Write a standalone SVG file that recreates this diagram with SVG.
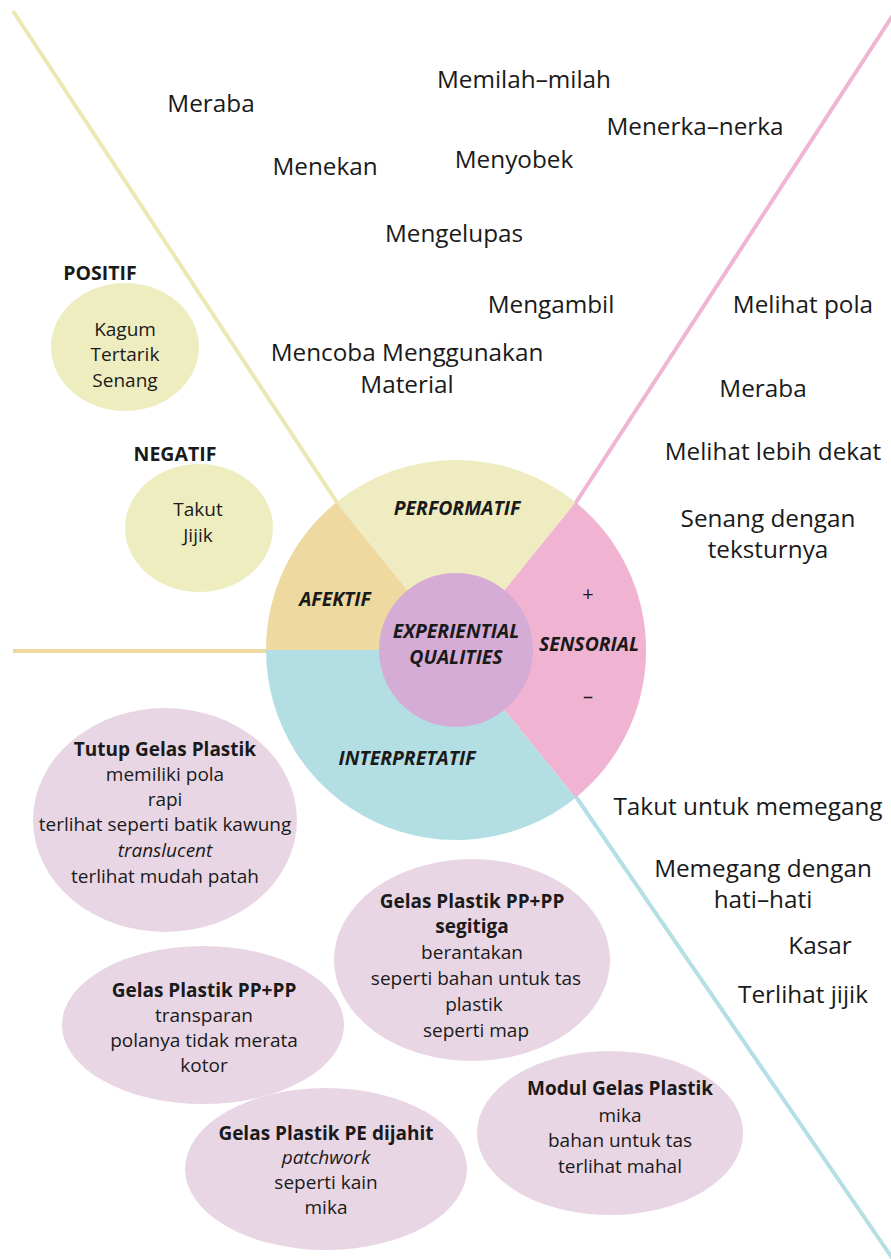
<svg xmlns="http://www.w3.org/2000/svg" width="891" height="1259" viewBox="0 0 891 1259">
<style>
  text { font-family: "Open Sans", "Liberation Sans", sans-serif; fill: #1a1a1a; text-anchor: middle; }
  .w { font-size: 24.3px; }
  .e { font-size: 19px; }
  .b { font-weight: bold; }
  .i { font-style: italic; }
  .lab { font-size: 19.4px; font-weight: bold; font-style: italic; }
  .cap { font-size: 19.5px; font-weight: bold; }
  .bub { fill: #e9d6e5; }
  .yel { fill: #eeedc0; }
  .ln { fill: none; stroke-width: 4; stroke-linecap: butt; }
</style>
<rect width="891" height="1259" fill="#ffffff"/>

<g id="connectors">
  <line class="ln" x1="13" y1="11" x2="340" y2="507" stroke="#ebe8b3"/>
  <line class="ln" x1="895" y1="12" x2="573" y2="507" stroke="#f0b5d3"/>
  <line class="ln" x1="572" y1="791" x2="895" y2="1262" stroke="#b3dfe5"/>
  <line class="ln" x1="13" y1="651" x2="270" y2="651" stroke="#ecd9a0"/>
</g>

<g id="wheel">
  <path id="afektif" d="M456 650 L266 650 A190 190 0 0 1 336.4 502.3 Z" fill="#eed9a1"/>
  <path id="performatif" d="M456 650 L336.4 502.3 A190 190 0 0 1 575.6 502.3 Z" fill="#eeecc0"/>
  <path id="sensorial" d="M456 650 L575.6 502.3 A190 190 0 0 1 575.6 797.7 Z" fill="#f0b4d2"/>
  <path id="interpretatif" d="M456 650 L575.6 797.7 A190 190 0 0 1 266 650 Z" fill="#b3dfe4"/>
  <text class="lab" x="457" y="515">PERFORMATIF</text>
  <text class="lab" x="335" y="606">AFEKTIF</text>
  <text class="lab" x="589" y="651">SENSORIAL</text>
  <text class="lab" x="407" y="765">INTERPRETATIF</text>
  <text class="w" x="588" y="601" style="font-size:20px">+</text>
  <text class="w" x="588" y="703" style="font-size:20px">–</text>
</g>

<g id="center">
  <circle cx="456" cy="650" r="77" fill="#d4acd5"/>
  <text class="lab" x="456" y="638">EXPERIENTIAL</text>
  <text class="lab" x="456" y="664">QUALITIES</text>
</g>

<g id="performatif-words">
  <text class="w" x="524" y="88">Memilah–milah</text>
  <text class="w" x="211" y="112">Meraba</text>
  <text class="w" x="695" y="135">Menerka–nerka</text>
  <text class="w" x="325" y="175">Menekan</text>
  <text class="w" x="514" y="168">Menyobek</text>
  <text class="w" x="454" y="242">Mengelupas</text>
  <text class="w" x="551" y="313">Mengambil</text>
  <text class="w" x="407" y="361">Mencoba Menggunakan</text>
  <text class="w" x="407" y="393">Material</text>
</g>

<g id="sensorial-words">
  <text class="w" x="803" y="313">Melihat pola</text>
  <text class="w" x="763" y="397">Meraba</text>
  <text class="w" x="773" y="460">Melihat lebih dekat</text>
  <text class="w" x="768" y="527">Senang dengan</text>
  <text class="w" x="768" y="558">teksturnya</text>
  <text class="w" x="748" y="815">Takut untuk memegang</text>
  <text class="w" x="763" y="877">Memegang dengan</text>
  <text class="w" x="763" y="908">hati–hati</text>
  <text class="w" x="820" y="954">Kasar</text>
  <text class="w" x="803" y="1003">Terlihat jijik</text>
</g>

<g id="positif">
  <text class="cap" x="100" y="280">POSITIF</text>
  <ellipse class="yel" cx="125" cy="347" rx="74" ry="64"/>
  <text class="e" x="125" y="336">Kagum</text>
  <text class="e" x="125" y="361">Tertarik</text>
  <text class="e" x="125" y="387">Senang</text>
</g>

<g id="negatif">
  <text class="cap" x="175" y="461">NEGATIF</text>
  <ellipse class="yel" cx="199" cy="528" rx="74" ry="64"/>
  <text class="e" x="198" y="516">Takut</text>
  <text class="e" x="198" y="542">Jijik</text>
</g>

<g id="tutup-gelas-plastik">
  <ellipse class="bub" cx="165" cy="820" rx="132" ry="112"/>
  <text class="e b" x="165" y="756">Tutup Gelas Plastik</text>
  <text class="e" x="165" y="781">memiliki pola</text>
  <text class="e" x="165" y="806">rapi</text>
  <text class="e" x="165" y="831">terlihat seperti batik kawung</text>
  <text class="e i" x="165" y="857">translucent</text>
  <text class="e" x="165" y="883">terlihat mudah patah</text>
</g>

<g id="gelas-pp-segitiga">
  <ellipse class="bub" cx="472" cy="960" rx="138" ry="101"/>
  <text class="e b" x="472" y="908">Gelas Plastik PP+PP</text>
  <text class="e b" x="472" y="933">segitiga</text>
  <text class="e" x="472" y="959">berantakan</text>
  <text class="e" x="476" y="985">seperti bahan untuk tas</text>
  <text class="e" x="474" y="1011">plastik</text>
  <text class="e" x="476" y="1037">seperti map</text>
</g>

<g id="gelas-pp">
  <ellipse class="bub" cx="203" cy="1025" rx="141" ry="79"/>
  <text class="e b" x="204" y="997">Gelas Plastik PP+PP</text>
  <text class="e" x="204" y="1022">transparan</text>
  <text class="e" x="204" y="1047">polanya tidak merata</text>
  <text class="e" x="204" y="1072">kotor</text>
</g>

<g id="gelas-pe-dijahit">
  <ellipse class="bub" cx="326" cy="1169" rx="141" ry="81"/>
  <text class="e b" x="326" y="1140">Gelas Plastik PE dijahit</text>
  <text class="e i" x="326" y="1164">patchwork</text>
  <text class="e" x="326" y="1189">seperti kain</text>
  <text class="e" x="326" y="1214">mika</text>
</g>

<g id="modul-gelas-plastik">
  <ellipse class="bub" cx="610" cy="1133" rx="133" ry="82"/>
  <text class="e b" x="620" y="1095">Modul Gelas Plastik</text>
  <text class="e" x="620" y="1122">mika</text>
  <text class="e" x="620" y="1147">bahan untuk tas</text>
  <text class="e" x="620" y="1173">terlihat mahal</text>
</g>
</svg>
